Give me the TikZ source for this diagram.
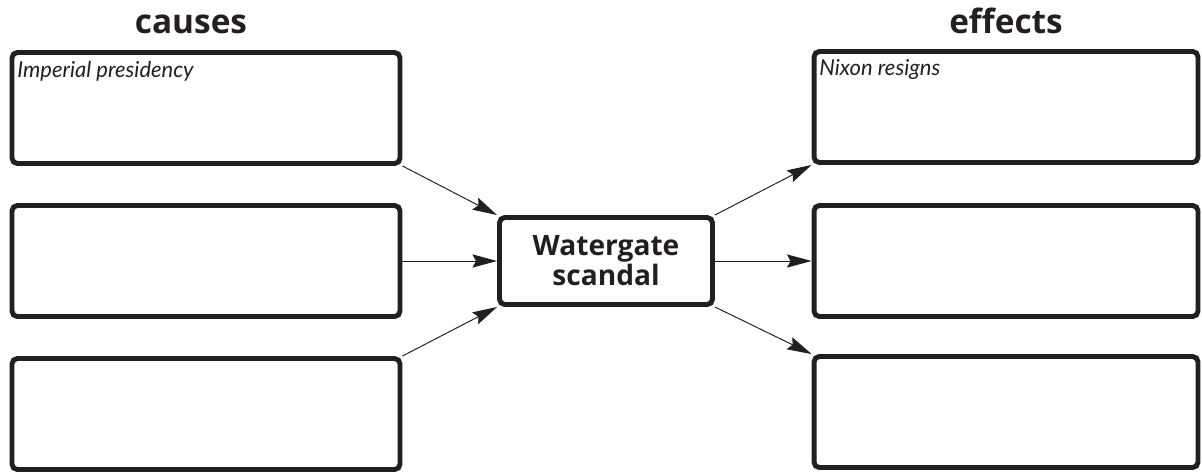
\documentclass[tikz,border=0pt]{standalone}
\usepackage{fontspec}
\setmainfont{Open Sans}
\newfontfamily\handfont{Lato}
\usetikzlibrary{arrows.meta}
\usetikzlibrary{calc, positioning}

\definecolor{ink}{HTML}{231F20}

\tikzset{
  box/.style={draw=ink, line width=2.8pt, rounded corners=3pt, minimum width=7.76cm, minimum height=2.22cm, inner sep=0pt},
  hub/.style={draw=ink, text=ink, line width=2.8pt, rounded corners=3pt, minimum width=4.26cm, minimum height=1.74cm, inner sep=0pt, align=center, font=\bfseries\fontsize{16}{17}\selectfont},
  link/.style={draw=ink, -{Stealth[length=14pt,width=7.5pt,inset=2pt]}, line width=0.55pt},
  note/.style={anchor=base west, inner sep=0pt, text=ink, font=\handfont\itshape\fontsize{12.5}{14}\selectfont},
  head/.style={anchor=base, inner sep=0pt, text=ink, font=\bfseries\fontsize{19}{20}\selectfont}
}

\begin{document}
\begin{tikzpicture}[x=0.02cm, y=-0.02cm]
          \useasboundingbox (0,0) rectangle (1202,474);

          \node [head] (causes) at (191,33) {causes};
          \node [head] (effects) at (1006,33) {effects};

          \node [box] (c1) at (206,108) {}; % cause boxes
          \node [box] (c2) at (206,261) {};
          \node [box] (c3) at (206,414) {};

          \node [hub] (ws) at (606,261) {Watergate\\scandal}; % middle

          \node [box, minimum width=7.68cm] (e1) at (1006,107) {}; % effect boxes
          \node [box, minimum width=7.68cm] (e2) at (1006,261) {};
          \node [box, minimum width=7.68cm] (e3) at (1006,412) {};

          \node [note] (n1) at ([shift={(7.5,27.5)}]c1.north west) {Imperial presidency};
          \node [note] (n2) at ([shift={(7.5,26.5)}]e1.north west) {Nixon resigns};

          \draw [link] (c1.south east) to (ws.north west);
          \draw [link] (c2.east) to (ws.west);
          \draw [link] (c3.north east) to (ws.south west);

          \draw [link] (ws.north east) to (e1.south west);
          \draw [link] (ws.east) to (e2.west);
          \draw [link] (ws.south east) to (e3.north west);
        \end{tikzpicture}
\end{document}
